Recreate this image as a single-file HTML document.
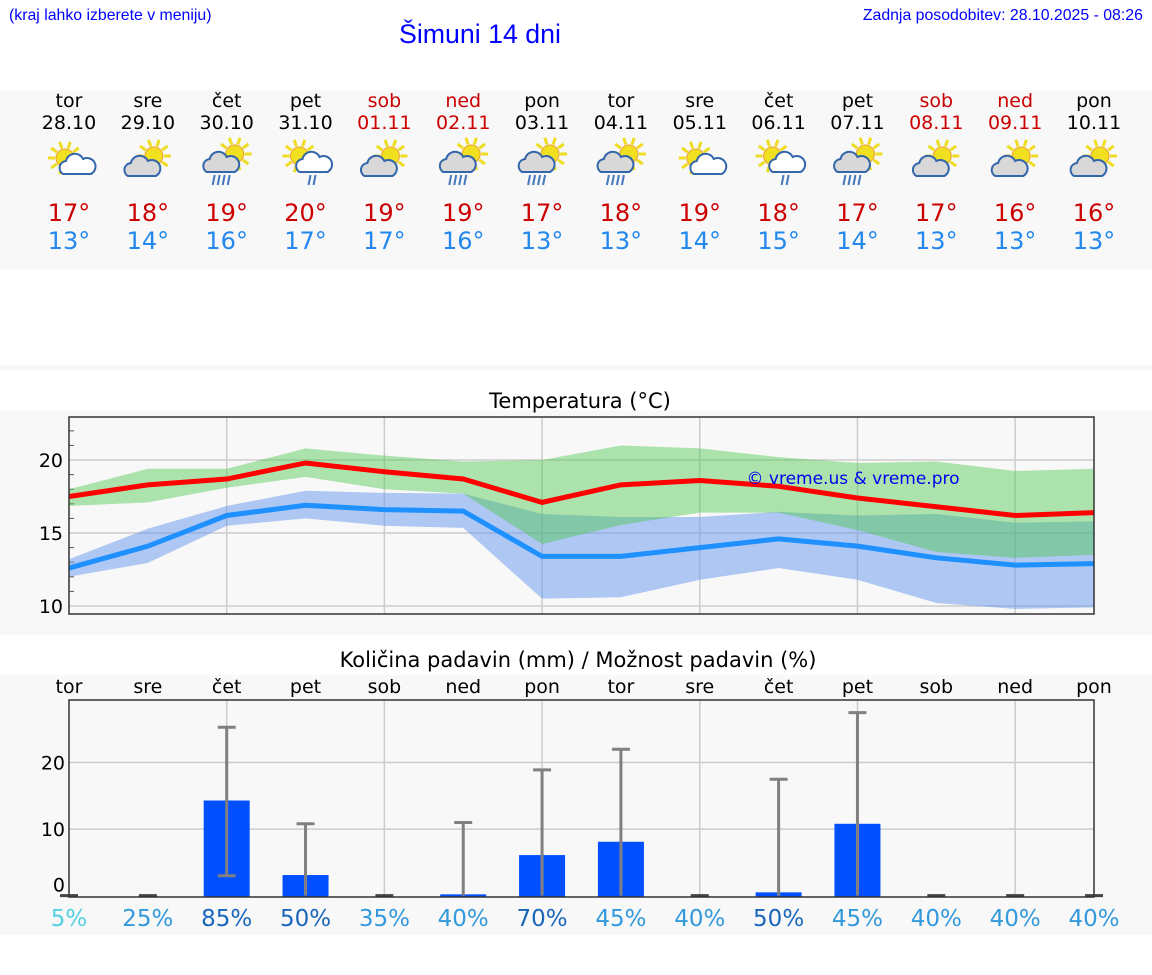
<!DOCTYPE html>
<html><head><meta charset="utf-8">
<style>
body{margin:0;width:1152px;height:975px;background:#fff;position:relative;overflow:hidden;font-family:"Liberation Sans","DejaVu Sans",sans-serif}
.t{position:absolute;white-space:nowrap}
svg text{font-family:"DejaVu Sans","Liberation Sans",sans-serif}
</style></head><body>
<div class="t" style="left:9px;top:7px;font-size:16px;color:#00f;transform:scaleX(0.99);transform-origin:left">(kraj lahko izberete v meniju)</div>
<div class="t" style="right:9px;top:7px;font-size:16px;color:#00f;transform:scaleX(0.99);transform-origin:right">Zadnja posodobitev: 28.10.2025 - 08:26</div>
<div class="t" style="left:399px;top:19px;font-size:27px;color:#00f;transform:scaleX(0.99);transform-origin:left">Šimuni 14 dni</div>
<svg id="s" width="1152" height="975" style="position:absolute;left:0;top:0"></svg>
<script>
const days=['tor','sre','čet','pet','sob','ned','pon','tor','sre','čet','pet','sob','ned','pon'];
const dates=['28.10','29.10','30.10','31.10','01.11','02.11','03.11','04.11','05.11','06.11','07.11','08.11','09.11','10.11'];
const hiLabels=[17,18,19,20,19,19,17,18,19,18,17,17,16,16];
const loLabels=[13,14,16,17,17,16,13,13,14,15,14,13,13,13];
const icons=['sc','ps','r','scr','ps','pr','pr','pr','sc','scr','pr','ps','ps','ps'];
const tMax=[17.5,18.3,18.7,19.8,19.2,18.7,17.1,18.3,18.6,18.2,17.4,16.8,16.2,16.4];
const tMaxHi=[18.0,19.4,19.4,20.8,20.3,19.9,20.0,21.0,20.8,20.2,19.8,19.9,19.25,19.4];
const tMaxLo=[16.85,17.1,18.1,18.85,18.0,17.7,14.25,15.55,16.4,16.4,15.2,13.7,13.3,13.5];
const tMin=[12.6,14.1,16.2,16.9,16.6,16.5,13.4,13.4,14.0,14.6,14.1,13.3,12.8,12.9];
const tMinHi=[13.2,15.3,16.85,17.9,17.75,17.7,16.3,16.1,16.1,16.45,16.2,16.3,15.7,15.8];
const tMinLo=[12.0,12.95,15.5,16.0,15.5,15.35,10.5,10.6,11.8,12.6,11.8,10.2,9.8,9.9];
const tTicks=[10,15,20];
const pAmt=[0,0,14.3,3.1,0,0.2,6.1,8.1,0,0.5,10.8,0,0,0];
const pErrHi=[0,0,25.3,10.8,0,11,18.9,22,0,17.5,27.5,0,0,0];
const pErrLo=[0,0,3,0,0,0,0,0,0,0,0,0,0,0];
const pProb=[5,25,85,50,35,40,70,45,40,50,45,40,40,40];
const pTicks=[0,10,20];
const red=[4,5,11,12];

const S=document.getElementById('s'),NS='http://www.w3.org/2000/svg';
function el(t,a,p){const e=document.createElementNS(NS,t);for(const k in a)e.setAttribute(k,a[k]);(p||S).appendChild(e);return e;}
function tx(x,y,s,a){const e=el('text',Object.assign({x:x,y:y,'text-anchor':'middle'},a));e.textContent=s;return e;}
const X0=69,X1=1094;
const xs=i=>X0+i*(X1-X0)/13;
let b;
b=el('rect',{x:0,y:90,width:1152,height:180,fill:'#f8f8f8'});
b=el('rect',{x:0,y:365,width:1152,height:5,fill:'#f8f8f8'});
b=el('rect',{x:0,y:410,width:1152,height:225,fill:'#f8f8f8'});
b=el('rect',{x:0,y:675,width:1152,height:260,fill:'#f8f8f8'});

function icon(g,type,cx,cy){
  const sun=(x,y)=>{for(let k=0;k<10;k++){const a=k*Math.PI/5;el('line',{x1:x+Math.cos(a)*10,y1:y+Math.sin(a)*10,x2:x+Math.cos(a)*17,y2:y+Math.sin(a)*17,stroke:'#eedd22','stroke-width':3},g);}el('circle',{cx:x,cy:y,r:9,fill:'#f0e020',stroke:'#f0a030','stroke-width':1},g);};
  const cloud=(x,y,fill)=>{el('path',{d:`M${x-14} ${y+8} a7 7 0 0 1 3-13 a9 9 0 0 1 17-2 a7 7 0 0 1 8 15 z`,fill:fill,stroke:'#3366aa','stroke-width':2},g);};
  const rain=(x,y,n)=>{for(let k=0;k<n;k++)el('line',{x1:x+k*5,y1:y,x2:x-2+k*5,y2:y+10,stroke:'#4477bb','stroke-width':2},g);};
  if(type=='sc'){sun(cx-4,cy-2);cloud(cx+8,cy+6,'#fff');}
  else if(type=='ps'){sun(cx+6,cy-4);cloud(cx-6,cy+8,'#d8d8d8');}
  else if(type=='r'||type=='pr'){sun(cx+8,cy-6);cloud(cx-6,cy+4,'#d8d8d8');rain(cx-12,cy+15,4);}
  else if(type=='scr'){sun(cx-6,cy-4);cloud(cx+8,cy+4,'#fff');rain(cx+5,cy+15,2);}
}
for(let i=0;i<14;i++){
  const x=xs(i),c=red.includes(i)?'#cc0000':'#000';
  let t=tx(x,107,days[i],{'font-size':19,fill:c});
  t=tx(x,129,dates[i],{'font-size':19,fill:c});
  const g=el('g',{});
  icon(g,icons[i],x,160);
  t=tx(x,221,hiLabels[i]+'°',{'font-size':24,fill:'#cc0000'});
  t=tx(x,249,loLabels[i]+'°',{'font-size':24,fill:'#2288ee'});
}

const TY0=417,TY1=614,tminV=9.45,tmaxV=22.95;
const ty=v=>TY1-(v-tminV)/(tmaxV-tminV)*(TY1-TY0);
let tt=tx(580,408,'Temperatura (°C)',{'font-size':21});
for(let i=2;i<14;i+=2){const l=el('line',{x1:xs(i),x2:xs(i),y1:TY0,y2:TY1,stroke:'#ccc','stroke-width':1.5});}
for(let v=10;v<=22;v++){el('line',{x1:X0,x2:X0+5,y1:ty(v),y2:ty(v),stroke:'#555','stroke-width':1});}
tTicks.forEach(v=>{el('line',{x1:X0,x2:X1,y1:ty(v),y2:ty(v),stroke:'#ccc','stroke-width':1.5});const t=tx(X0-6,ty(v)+7,v,{'font-size':19,'text-anchor':'end'});});
function band(hi,lo,fill,name){const pts=hi.map((v,i)=>xs(i)+','+ty(v)).concat(lo.map((v,i)=>xs(i)+','+ty(v)).reverse());const p=el('polygon',{points:pts.join(' '),fill:fill});}
band(tMinHi,tMinLo,'rgba(100,149,237,0.5)','min-temp-band');
band(tMaxHi,tMaxLo,'rgba(80,200,80,0.45)','max-temp-band');
function line(v,c,name){const p=el('polyline',{points:v.map((d,i)=>xs(i)+','+ty(d)).join(' '),fill:'none',stroke:c,'stroke-width':5});}
line(tMin,'#1e90ff','min-temp-line');line(tMax,'#ff0000','max-temp-line');
let cp=tx(853,484,'© vreme.us & vreme.pro',{'font-size':17,fill:'#0000ee'});cp.setAttribute('font-family','Liberation Sans');
el('rect',{x:X0,y:TY0,width:X1-X0,height:TY1-TY0,fill:'none',stroke:'#333','stroke-width':1.5});

const PY0=700,PY1=897,pmaxV=29.4,pminV=-0.2;
const py=v=>PY1-(v-pminV)/(pmaxV-pminV)*(PY1-PY0);
tt=tx(578,667,'Količina padavin (mm) / Možnost padavin (%)',{'font-size':21});
for(let i=0;i<14;i++){const t=tx(xs(i),693,days[i],{'font-size':19});}
for(let i=2;i<14;i+=2){el('line',{x1:xs(i),x2:xs(i),y1:PY0,y2:PY1,stroke:'#ccc','stroke-width':1.5});}
pTicks.forEach(v=>{if(v>0)el('line',{x1:X0,x2:X1,y1:py(v),y2:py(v),stroke:'#ccc','stroke-width':1.5});const t=tx(X0-4,(v==0?py(v)-4:py(v)+7),v,{'font-size':19,'text-anchor':'end'});});
const probCol=p=>p<10?'#55d0e0':(p>=50?'#1a66bb':'#3399dd');
for(let i=0;i<14;i++){
  const x=xs(i);
  if(pAmt[i]>0){const r=el('rect',{x:x-23,y:py(pAmt[i]),width:46,height:PY1-py(pAmt[i]),fill:'#0050ff'});}
  const g=el('g',{stroke:pErrHi[i]>0?'#808080':'#444','stroke-width':3});
  el('line',{x1:x,x2:x,y1:py(pErrLo[i]),y2:py(pErrHi[i])},g);
  el('line',{x1:x-9,x2:x+9,y1:py(pErrHi[i]),y2:py(pErrHi[i])},g);
  if(pErrLo[i]>0)el('line',{x1:x-9,x2:x+9,y1:py(pErrLo[i]),y2:py(pErrLo[i])},g);
  const t=tx(x,926,pProb[i]+'%',{'font-size':23,fill:probCol(pProb[i])});
}
el('rect',{x:X0,y:PY0,width:X1-X0,height:PY1-PY0,fill:'none',stroke:'#333','stroke-width':1.5});
</script>
</body></html>
